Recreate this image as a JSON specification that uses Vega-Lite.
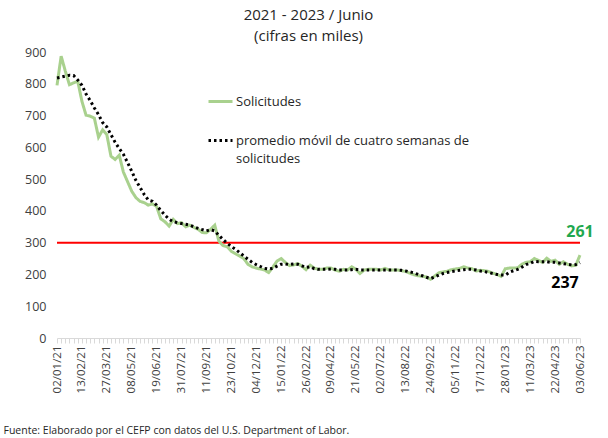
{
  "$schema": "https://vega.github.io/schema/vega-lite/v6.json",
  "width": 523,
  "height": 286,
  "autosize": {"type": "none"},
  "padding": {"left": 57, "top": 52, "right": 28, "bottom": 100},
  "background": "white",
  "config": {
    "font": "Open Sans",
    "view": {"stroke": null},
    "axis": {"labelOverlap": false},
    "axisY": {"labelOverlap": false, "tickCount": 10},
    "axisQuantitative": {"labelOverlap": false}
  },
  "title": {
    "text": ["2021 - 2023 / Junio", "(cifras en miles)"],
    "fontSize": 15,
    "fontWeight": "normal",
    "color": "#262626",
    "lineHeight": 21,
    "offset": 2,
    "dx": -10,
    "anchor": "middle"
  },
  "data": {
    "values": [
      {"f": "02/01/21", "s": 795, "p": 818},
      {"f": "09/01/21", "s": 887, "p": 821},
      {"f": "16/01/21", "s": 840, "p": 824},
      {"f": "23/01/21", "s": 797, "p": 827},
      {"f": "30/01/21", "s": 803, "p": 826},
      {"f": "06/02/21", "s": 808, "p": 812},
      {"f": "13/02/21", "s": 745, "p": 795},
      {"f": "20/02/21", "s": 701, "p": 768},
      {"f": "27/02/21", "s": 698, "p": 747},
      {"f": "06/03/21", "s": 692, "p": 724},
      {"f": "13/03/21", "s": 632, "p": 703},
      {"f": "20/03/21", "s": 655, "p": 678},
      {"f": "27/03/21", "s": 640, "p": 664},
      {"f": "03/04/21", "s": 572, "p": 640},
      {"f": "10/04/21", "s": 562, "p": 616},
      {"f": "17/04/21", "s": 575, "p": 596},
      {"f": "24/04/21", "s": 522, "p": 578},
      {"f": "01/05/21", "s": 492, "p": 552},
      {"f": "08/05/21", "s": 462, "p": 525},
      {"f": "15/05/21", "s": 442, "p": 496},
      {"f": "22/05/21", "s": 430, "p": 474},
      {"f": "29/05/21", "s": 426, "p": 452},
      {"f": "05/06/21", "s": 418, "p": 434},
      {"f": "12/06/21", "s": 422, "p": 430},
      {"f": "19/06/21", "s": 414, "p": 418},
      {"f": "26/06/21", "s": 375, "p": 401},
      {"f": "03/07/21", "s": 366, "p": 387},
      {"f": "10/07/21", "s": 352, "p": 374},
      {"f": "17/07/21", "s": 373, "p": 366},
      {"f": "24/07/21", "s": 360, "p": 363},
      {"f": "31/07/21", "s": 363, "p": 360},
      {"f": "07/08/21", "s": 350, "p": 358},
      {"f": "14/08/21", "s": 355, "p": 355},
      {"f": "21/08/21", "s": 348, "p": 350},
      {"f": "28/08/21", "s": 342, "p": 345},
      {"f": "04/09/21", "s": 332, "p": 341},
      {"f": "11/09/21", "s": 331, "p": 337},
      {"f": "18/09/21", "s": 342, "p": 341},
      {"f": "25/09/21", "s": 355, "p": 337},
      {"f": "02/10/21", "s": 305, "p": 323},
      {"f": "09/10/21", "s": 291, "p": 310},
      {"f": "16/10/21", "s": 287, "p": 298},
      {"f": "23/10/21", "s": 273, "p": 288},
      {"f": "30/10/21", "s": 265, "p": 279},
      {"f": "06/11/21", "s": 258, "p": 269},
      {"f": "13/11/21", "s": 250, "p": 258},
      {"f": "20/11/21", "s": 232, "p": 248},
      {"f": "27/11/21", "s": 224, "p": 238},
      {"f": "04/12/21", "s": 220, "p": 231},
      {"f": "11/12/21", "s": 217, "p": 225},
      {"f": "18/12/21", "s": 214, "p": 219},
      {"f": "25/12/21", "s": 206, "p": 217},
      {"f": "01/01/22", "s": 223, "p": 219},
      {"f": "08/01/22", "s": 242, "p": 226},
      {"f": "15/01/22", "s": 250, "p": 232},
      {"f": "22/01/22", "s": 238, "p": 233},
      {"f": "29/01/22", "s": 228, "p": 231},
      {"f": "05/02/22", "s": 230, "p": 233},
      {"f": "12/02/22", "s": 234, "p": 232},
      {"f": "19/02/22", "s": 226, "p": 227},
      {"f": "26/02/22", "s": 215, "p": 222},
      {"f": "05/03/22", "s": 229, "p": 224},
      {"f": "12/03/22", "s": 220, "p": 218},
      {"f": "19/03/22", "s": 216, "p": 216},
      {"f": "26/03/22", "s": 216, "p": 216},
      {"f": "02/04/22", "s": 220, "p": 216},
      {"f": "09/04/22", "s": 220, "p": 217},
      {"f": "16/04/22", "s": 214, "p": 216},
      {"f": "23/04/22", "s": 210, "p": 214},
      {"f": "30/04/22", "s": 216, "p": 214},
      {"f": "07/05/22", "s": 214, "p": 214},
      {"f": "14/05/22", "s": 224, "p": 215},
      {"f": "21/05/22", "s": 216, "p": 216},
      {"f": "28/05/22", "s": 203, "p": 214},
      {"f": "04/06/22", "s": 214, "p": 214},
      {"f": "11/06/22", "s": 216, "p": 214},
      {"f": "18/06/22", "s": 216, "p": 214},
      {"f": "25/06/22", "s": 216, "p": 214},
      {"f": "02/07/22", "s": 214, "p": 214},
      {"f": "09/07/22", "s": 219, "p": 214},
      {"f": "16/07/22", "s": 214, "p": 214},
      {"f": "23/07/22", "s": 214, "p": 214},
      {"f": "30/07/22", "s": 214, "p": 214},
      {"f": "06/08/22", "s": 212, "p": 213},
      {"f": "13/08/22", "s": 209, "p": 211},
      {"f": "20/08/22", "s": 204, "p": 208},
      {"f": "27/08/22", "s": 199, "p": 205},
      {"f": "03/09/22", "s": 196, "p": 200},
      {"f": "10/09/22", "s": 194, "p": 196},
      {"f": "17/09/22", "s": 192, "p": 191},
      {"f": "24/09/22", "s": 185, "p": 187},
      {"f": "01/10/22", "s": 195, "p": 192},
      {"f": "08/10/22", "s": 205, "p": 198},
      {"f": "15/10/22", "s": 208, "p": 203},
      {"f": "22/10/22", "s": 210, "p": 206},
      {"f": "29/10/22", "s": 215, "p": 209},
      {"f": "05/11/22", "s": 217, "p": 211},
      {"f": "12/11/22", "s": 219, "p": 213},
      {"f": "19/11/22", "s": 224, "p": 215},
      {"f": "26/11/22", "s": 220, "p": 216},
      {"f": "03/12/22", "s": 218, "p": 216},
      {"f": "10/12/22", "s": 211, "p": 214},
      {"f": "17/12/22", "s": 213, "p": 211},
      {"f": "24/12/22", "s": 212, "p": 209},
      {"f": "31/12/22", "s": 209, "p": 206},
      {"f": "07/01/23", "s": 204, "p": 203},
      {"f": "14/01/23", "s": 200, "p": 200},
      {"f": "21/01/23", "s": 194, "p": 198},
      {"f": "28/01/23", "s": 218, "p": 198},
      {"f": "04/02/23", "s": 220, "p": 207},
      {"f": "11/02/23", "s": 220, "p": 212},
      {"f": "18/02/23", "s": 221, "p": 216},
      {"f": "25/02/23", "s": 232, "p": 223},
      {"f": "04/03/23", "s": 238, "p": 231},
      {"f": "11/03/23", "s": 240, "p": 235},
      {"f": "18/03/23", "s": 250, "p": 241},
      {"f": "25/03/23", "s": 244, "p": 240},
      {"f": "01/04/23", "s": 238, "p": 240},
      {"f": "08/04/23", "s": 251, "p": 240},
      {"f": "15/04/23", "s": 241, "p": 238},
      {"f": "22/04/23", "s": 245, "p": 238},
      {"f": "29/04/23", "s": 232, "p": 236},
      {"f": "06/05/23", "s": 240, "p": 234},
      {"f": "13/05/23", "s": 232, "p": 232},
      {"f": "20/05/23", "s": 227, "p": 230},
      {"f": "27/05/23", "s": 229, "p": 231},
      {"f": "03/06/23", "s": 261, "p": 237}
    ]
  },
  "transform": [{"fold": ["s", "p"], "as": ["serie", "valor"]}],
  "encoding": {
    "y": {
      "field": "valor",
      "type": "quantitative",
      "scale": {"domain": [0, 900], "nice": false},
      "axis": {
        "title": null,
        "values": [0, 100, 200, 300, 400, 500, 600, 700, 800, 900],
        "tickCount": 10,
        "labelOverlap": false,
        "ticks": false,
        "domain": false,
        "grid": false,
        "labelFontSize": 12.5,
        "labelColor": "#404040",
        "labelPadding": 11
      }
    }
  },
  "layer": [
    {
      "transform": [{"filter": "datum.serie == 's' && datum.f == '02/01/21'"}],
      "mark": {"type": "rule", "color": "#ff0000", "strokeWidth": 2},
      "encoding": {"y": {"datum": 300, "type": "quantitative"}}
    },
    {
      "transform": [{"filter": "datum.serie == 's'"}],
      "mark": {"type": "line", "strokeWidth": 3},
      "encoding": {
        "x": {
          "field": "f",
          "type": "ordinal",
          "sort": null,
          "scale": {"padding": 0},
          "axis": {
            "title": "Fuente: Elaborado por el CEFP con datos del U.S. Department of Labor.",
            "titleFontSize": 10.5,
            "titleFontWeight": "normal",
            "titleColor": "#262626",
            "titleAnchor": "start",
            "titleAlign": "left",
            "titleBaseline": "middle",
            "titleX": -54,
            "titleY": 92,
            "labelAngle": -90,
            "labelAlign": "right",
            "labelBaseline": "middle",
            "labelFontSize": 11.5,
            "labelColor": "#404040",
            "labelPadding": 2,
            "labelOverlap": false,
            "labelExpr": "indexof(['02/01/21','13/02/21','27/03/21','08/05/21','19/06/21','31/07/21','11/09/21','23/10/21','04/12/21','15/01/22','26/02/22','09/04/22','21/05/22','02/07/22','13/08/22','24/09/22','05/11/22','17/12/22','28/01/23','11/03/23','22/04/23','03/06/23'], datum.value) >= 0 ? datum.value : ''",
            "ticks": true,
            "tickColor": "#d9d9d9",
            "tickSize": 5,
            "domainColor": "#d9d9d9",
            "grid": false
          }
        },
        "color": {
          "field": "serie",
          "type": "nominal",
          "scale": {"domain": ["s", "p"], "range": ["#a9d18e", "#000000"]},
          "legend": {
            "title": null,
            "orient": "none",
            "legendX": 150,
            "legendY": 36,
            "padding": 0,
            "symbolType": "stroke",
            "symbolSize": 576,
            "symbolStrokeWidth": 3,
            "labelFontSize": 13,
            "labelColor": "#262626",
            "labelOffset": 2,
            "labelLimit": 400,
            "rowPadding": 18,
            "labelExpr": "datum.value == 's' ? 'Solicitudes' : ['promedio móvil de cuatro semanas de', 'solicitudes']",
            "encode": {"labels": {"update": {"lineHeight": {"value": 18}}}}
          }
        },
        "strokeDash": {
          "field": "serie",
          "type": "nominal",
          "scale": {"domain": ["s", "p"], "range": [[1, 0], [2.5, 3]]},
          "legend": {
            "title": null,
            "orient": "none",
            "legendX": 150,
            "legendY": 36,
            "padding": 0,
            "symbolType": "stroke",
            "symbolSize": 576,
            "symbolStrokeWidth": 3,
            "labelFontSize": 13,
            "labelColor": "#262626",
            "labelOffset": 2,
            "labelLimit": 400,
            "rowPadding": 18,
            "labelExpr": "datum.value == 's' ? 'Solicitudes' : ['promedio móvil de cuatro semanas de', 'solicitudes']",
            "encode": {"labels": {"update": {"lineHeight": {"value": 18}}}}
          }
        }
      }
    },
    {
      "transform": [{"filter": "datum.serie == 'p'"}],
      "mark": {"type": "line", "strokeWidth": 3},
      "encoding": {
        "x": {"field": "f", "type": "ordinal", "sort": null},
        "color": {"field": "serie", "type": "nominal"},
        "strokeDash": {"field": "serie", "type": "nominal"}
      }
    },
    {
      "transform": [{"filter": "datum.serie == 's' && datum.f == '03/06/23'"}],
      "mark": {"type": "text", "fontSize": 16, "fontWeight": "bold", "color": "#1fa84f", "dy": -23, "dx": 0},
      "encoding": {
        "x": {"field": "f", "type": "ordinal", "sort": null},
        "text": {"field": "valor", "type": "quantitative"}
      }
    },
    {
      "transform": [{"filter": "datum.serie == 'p' && datum.f == '03/06/23'"}],
      "mark": {"type": "text", "fontSize": 16, "fontWeight": "bold", "color": "#000000", "dy": 20, "dx": -15},
      "encoding": {
        "x": {"field": "f", "type": "ordinal", "sort": null},
        "text": {"field": "valor", "type": "quantitative"}
      }
    }
  ]
}
